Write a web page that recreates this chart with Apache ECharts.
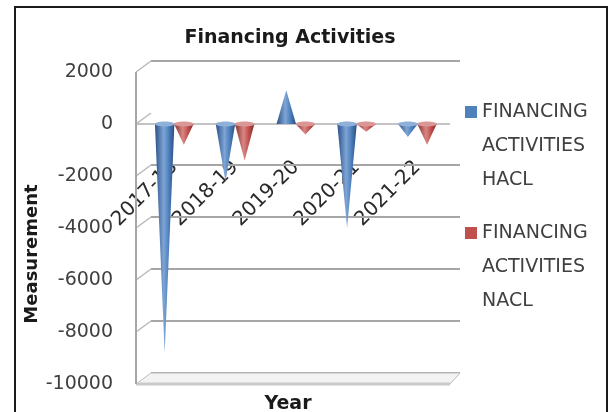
<!DOCTYPE html>
<html>
<head>
<meta charset="utf-8">
<title>Financing Activities</title>
<script src="https://cdn.jsdelivr.net/npm/echarts@6/dist/echarts.min.js"></script>
<style>
  html, body { margin: 0; padding: 0; background: #ffffff; }
  #chart { width: 610px; height: 412px; }
</style>
</head>
<body>
<div id="chart"></div>
<script>
// Financing activities by year, two companies
const categories = ['2017-18', '2018-19', '2019-20', '2020-21', '2021-22'];
const hacl = [-8800, -2200, 1300, -4000, -500];
const nacl = [-800, -1400, -400, -300, -800];
const yTicks = [2000, 0, -2000, -4000, -6000, -8000, -10000];

const nameHacl = 'FINANCING\nACTIVITIES\nHACL';
const nameNacl = 'FINANCING\nACTIVITIES\nNACL';
const FONT = 'DejaVu Sans';

// depth offset of the back wall relative to the front edge
const DX = 15, DY = -11;

const chart = echarts.init(document.getElementById('chart'), null, { renderer: 'canvas' });

// cone-shaped column drawn from zero to the value
function coneRenderer(shift, stops, capColor) {
  return function (params, api) {
    const cat = api.value(0);
    const val = api.value(1);
    const band = api.size([1, 0])[0];
    const w = band * 0.32;
    const base = api.coord([cat, 0]);
    const tip = api.coord([cat, val]);
    const cx = base[0] + band * shift;
    const fill = new echarts.graphic.LinearGradient(0, 0, 1, 0, stops);
    const children = [
      {
        type: 'polygon',
        shape: { points: [[cx - w / 2, base[1]], [cx + w / 2, base[1]], [cx, tip[1]]] },
        style: { fill: fill }
      }
    ];
    if (val < 0) {
      children.push({
        type: 'ellipse',
        shape: { cx: cx, cy: base[1], rx: w / 2, ry: 2.5 },
        style: { fill: capColor }
      });
    }
    return { type: 'group', children: children };
  };
}

// side wall, zero line, back-wall gridlines and floor of the plot box
function wallRenderer(params, api) {
  const cs = params.coordSys;
  const L = cs.x, R = cs.x + cs.width;
  const fl = L - 8, fr = R + 2;
  const children = [];
  const gridStyle = { stroke: '#a6a6a6', lineWidth: 2 };
  yTicks.forEach(function (v) {
    const fy = api.coord([0, v])[1];
    if (v !== 0) {
      children.push({
        type: 'line',
        shape: { x1: fl + DX, y1: fy + DY, x2: fr + DX - 5, y2: fy + DY },
        style: gridStyle
      });
    } else {
      children.push({
        type: 'line',
        shape: { x1: fl, y1: fy, x2: fr, y2: fy },
        style: { stroke: '#b0b0b0', lineWidth: 1.5 }
      });
    }
    if (v !== yTicks[yTicks.length - 1]) {
      children.push({
        type: 'line',
        shape: { x1: fl, y1: fy, x2: fl + DX, y2: fy + DY },
        style: { stroke: '#b8b8b8', lineWidth: 1.5 }
      });
    }
  });
  const top = api.coord([0, yTicks[0]])[1];
  const bottom = api.coord([0, yTicks[yTicks.length - 1]])[1];
  children.push({
    type: 'polygon',
    shape: { points: [[fl, bottom], [fr, bottom], [fr + DX - 5, bottom + DY], [fl + DX, bottom + DY]] },
    style: { fill: '#f3f3f3', stroke: '#bdbdbd', lineWidth: 1 }
  });
  children.push({
    type: 'line',
    shape: { x1: fl, y1: bottom, x2: fr, y2: bottom },
    style: { stroke: '#c9c9c9', lineWidth: 3 }
  });
  children.push({
    type: 'line',
    shape: { x1: fl, y1: top, x2: fl, y2: bottom },
    style: { stroke: '#a6a6a6', lineWidth: 2 }
  });
  return { type: 'group', children: children };
}

// legend entries: the swatch sits beside the first line of the name
function legendLabel(name) {
  return ' \n \n' + name;
}

const legendText = {
  fontFamily: FONT,
  fontSize: 19,
  lineHeight: 34,
  color: '#404040'
};

const option = {
  backgroundColor: '#ffffff',
  animation: false,
  title: {
    text: 'Financing Activities',
    left: 285,
    top: 24,
    textAlign: 'center',
    textStyle: { fontFamily: FONT, fontSize: 19, fontWeight: 'bold', color: '#1a1a1a' }
  },
  legend: [
    {
      data: [{ name: nameHacl, icon: 'rect' }],
      formatter: legendLabel,
      left: 465, top: 27, padding: 0, orient: 'vertical',
      itemWidth: 12, itemHeight: 12, selectedMode: false,
      textStyle: legendText
    },
    {
      data: [{ name: nameNacl, icon: 'rect' }],
      formatter: legendLabel,
      left: 465, top: 148, padding: 0, orient: 'vertical',
      itemWidth: 12, itemHeight: 12, selectedMode: false,
      textStyle: legendText
    }
  ],
  grid: { left: 144, right: 162, top: 72, bottom: 28, containLabel: false, outerBoundsMode: 'none' },
  xAxis: {
    type: 'category',
    data: categories,
    position: 'bottom',
    name: 'Year',
    nameLocation: 'middle',
    nameGap: 11,
    nameTextStyle: { fontFamily: FONT, fontSize: 19, fontWeight: 'bold', color: '#1a1a1a', padding: [0, 16, 0, 0] },
    axisLine: { show: false, onZero: false },
    axisTick: { show: false },
    axisLabel: {
      interval: 0, rotate: 45, margin: -220, hideOverlap: false,
      fontFamily: FONT, fontSize: 20, color: '#2a2a2a'
    }
  },
  yAxis: {
    type: 'value',
    min: -10000, max: 2000, interval: 2000,
    name: 'Measurement',
    nameLocation: 'middle',
    nameGap: 102,
    nameRotate: 90,
    nameTextStyle: { fontFamily: FONT, fontSize: 18, fontWeight: 'bold', color: '#1a1a1a', padding: [0, 52, 0, 0] },
    axisLine: { show: false },
    axisTick: { show: false },
    splitLine: { show: false },
    axisLabel: {
      margin: 31, fontFamily: FONT, fontSize: 19, color: '#404040',
      hideOverlap: false,
      formatter: function (v) { return String(v); }
    }
  },
  graphic: [
    {
      type: 'rect',
      shape: { x: 15, y: 7, width: 592, height: 410 },
      style: { fill: 'none', stroke: '#1a1a1a', lineWidth: 2 },
      silent: true
    }
  ],
  series: [
    {
      type: 'custom',
      name: 'wall',
      silent: true,
      z: 1,
      data: [[0, 0]],
      encode: { x: 0, y: 1 },
      renderItem: wallRenderer
    },
    {
      type: 'custom',
      name: nameHacl,
      z: 3,
      itemStyle: { color: '#4F81BD' },
      data: categories.map(function (c, i) { return [i, hacl[i]]; }),
      encode: { x: 0, y: 1 },
      renderItem: coneRenderer(-0.16, [
        { offset: 0, color: '#2c5088' },
        { offset: 0.45, color: '#7ea5d5' },
        { offset: 0.7, color: '#4f81bd' },
        { offset: 1, color: '#2a4d80' }
      ], '#8fb0d9')
    },
    {
      type: 'custom',
      name: nameNacl,
      z: 3,
      itemStyle: { color: '#C0504D' },
      data: categories.map(function (c, i) { return [i, nacl[i]]; }),
      encode: { x: 0, y: 1 },
      renderItem: coneRenderer(0.155, [
        { offset: 0, color: '#853230' },
        { offset: 0.45, color: '#d98683' },
        { offset: 0.7, color: '#c0504d' },
        { offset: 1, color: '#7e2d2b' }
      ], '#d99795')
    }
  ]
};

chart.setOption(option);
</script>
</body>
</html>
